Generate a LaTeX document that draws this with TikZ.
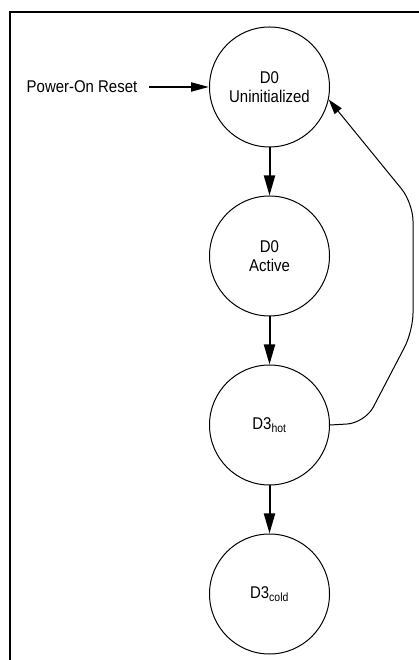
\documentclass[tikz,border=0pt]{standalone}
\usepackage{fontspec}
\setmainfont[FakeStretch=0.88]{Liberation Sans}
\usetikzlibrary{arrows.meta,positioning}

\begin{document}
\begin{tikzpicture}[x=1pt, y=1pt,
    state/.style={draw, circle, line width=1pt, minimum size=120pt, inner sep=0pt,
        align=center, font=\fontsize{17}{19}\selectfont},
    label/.style={font=\fontsize{17}{19}\selectfont, inner sep=0pt},
    step arrow/.style={line width=2pt, -{Triangle[length=20pt,width=11pt]}},
    reset arrow/.style={line width=2pt, -{Triangle[length=18pt,width=9pt]}},
    back arrow/.style={line width=1pt, rounded corners=18pt, -{Triangle[length=15pt,width=9pt]}},
    node distance=48pt]
    %%%%% FRAME %%%%%
    \useasboundingbox (0,0) rectangle (419,660);
    \draw[line width=2pt] (10,0) -- (10,648) -- (419,648);

    %%%%% STATES %%%%%
    \node[state] (uninit) at (269.5,573) {D0\\Uninitialized};
    \node[state, below=of uninit] (active) {D0\\Active};
    \node[state, below=of active] (hot) {D3\textsubscript{hot}};
    \node[state, below=of hot] (cold) {D3\textsubscript{cold}};

    \node[label] (por) at (82,573) {Power-On Reset};

    %%%%% TRANSITIONS %%%%%
    \draw[reset arrow, shorten <=12pt] (por) -- (uninit);
    \draw[step arrow] (uninit) -- (active);
    \draw[step arrow] (active) -- (hot);
    \draw[step arrow] (hot) -- (cold);

    \draw[back arrow] (hot.east) -- (365,237) -- (413,329) -- (413,457) -- (uninit.-12);
\end{tikzpicture}
\end{document}
